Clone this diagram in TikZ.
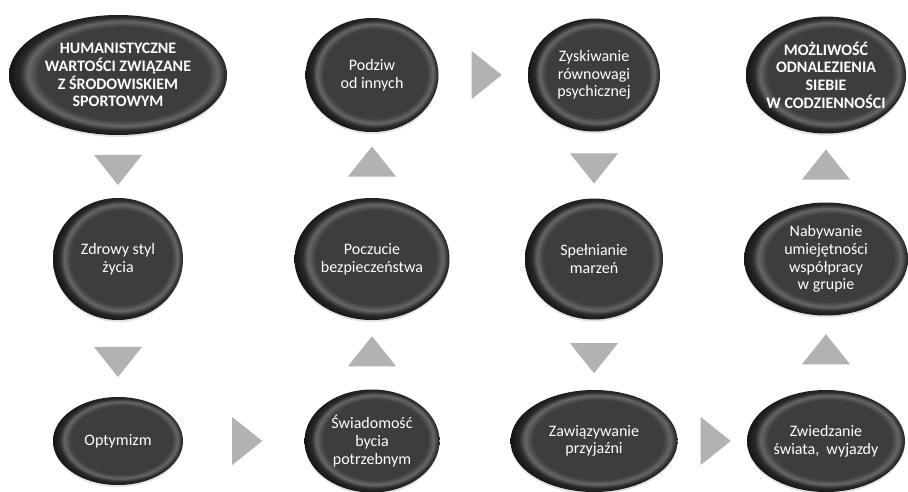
\documentclass[tikz,border=0pt]{standalone}
\usepackage{fontspec}
\setmainfont{Carlito}
\usepackage{tikz}
\usetikzlibrary{shapes.geometric,shadows}
\usetikzlibrary{positioning}

% dark pebble look, light rim a bit off centre
\pgfdeclareradialshading{pebble}{\pgfpoint{2bp}{1bp}}{%
  color(0bp)=(black!76); color(19.5bp)=(black!76); color(21.8bp)=(black!60);
  color(23.6bp)=(black!84); color(26bp)=(black!92); color(50bp)=(black!92)}

\tikzset{
    pebble/.style={
           ellipse,
           shade, shading=pebble,
           drop shadow={opacity=0.22,shadow xshift=0pt,shadow yshift=-2pt},
           text=white,
           inner sep=-12pt,
           align=center,
           font=\fontsize{16}{17.7}\selectfont,
           },
    bigpebble/.style={
           pebble,
           font=\fontsize{16}{17.7}\selectfont\bfseries,
           },
    arrowtri/.style={
           isosceles triangle,
           isosceles triangle stretches,
           fill=black!30,
           inner sep=0pt,
           minimum width=48pt,
           minimum height=30pt,
           },
}

\begin{document}
\begin{tikzpicture}

 \useasboundingbox (0,0) rectangle (908pt,-492pt);

 % first column, top to bottom
 \node[bigpebble, minimum width=218pt, minimum height=120pt] (Humanist) at (118pt,-75pt)
 {HUMANISTYCZNE\\WARTOŚCI ZWIĄZANE\\Z ŚRODOWISKIEM\\SPORTOWYM};

 \node[pebble,
  minimum width=130pt, minimum height=122pt,
  below of=Humanist,
  node distance=184pt,
  anchor=center] (Zdrowy)
 {Zdrowy styl\\życia};

 \node[pebble,
  minimum width=130pt, minimum height=88pt,
  below of=Zdrowy,
  node distance=182pt,
  anchor=center] (Optymizm)
 {Optymizm};

 % second column, read bottom to top
 \node[pebble,
  minimum width=133pt, minimum height=114pt,
  right of=Humanist,
  node distance=254pt,
  anchor=center] (Podziw)
 {Podziw\\od innych};

 \node[pebble,
  minimum width=155pt, minimum height=122pt,
  below of=Podziw,
  node distance=184pt,
  anchor=center] (Poczucie)
 {Poczucie\\bezpieczeństwa};

 \node[pebble,
  minimum width=135pt, minimum height=103pt,
  below of=Poczucie,
  node distance=182pt,
  anchor=center] (Swiadomosc)
 {Świadomość\\bycia\\potrzebnym};

 % third column, top to bottom
 \node[pebble,
  minimum width=132pt, minimum height=113pt,
  right of=Podziw,
  node distance=222pt,
  anchor=center] (Zyskiwanie)
 {Zyskiwanie\\równowagi\\psychicznej};

 \node[pebble,
  minimum width=138pt, minimum height=121pt,
  below of=Zyskiwanie,
  node distance=184pt,
  anchor=center] (Spelnianie)
 {Spełnianie\\marzeń};

 \node[pebble,
  minimum width=167pt, minimum height=102pt,
  below of=Spelnianie,
  node distance=182pt,
  anchor=center] (Zawiazywanie)
 {Zawiązywanie\\przyjaźni};

 % fourth column, read bottom to top
 \node[bigpebble,
  minimum width=160pt, minimum height=117pt,
  right of=Zyskiwanie,
  node distance=232pt,
  anchor=center] (Mozliwosc)
 {MOŻLIWOŚĆ\\ODNALEZIENIA\\SIEBIE\\W CODZIENNOŚCI};

 \node[pebble,
  minimum width=164pt, minimum height=113pt,
  below of=Mozliwosc,
  node distance=184pt,
  anchor=center] (Nabywanie)
 {Nabywanie\\umiejętności\\współpracy\\w grupie};

 \node[pebble,
  minimum width=158pt, minimum height=102pt,
  below of=Nabywanie,
  node distance=182pt,
  anchor=center] (Zwiedzanie)
 {Zwiedzanie\\świata,~ wyjazdy};

 % grey triangles between the pebbles
 \path (Humanist) -- (Zdrowy) node[arrowtri, midway, rotate=-90] (t1) {};
 \path (Zdrowy) -- (Optymizm) node[arrowtri, midway, rotate=-90] (t2) {};
 \path (Optymizm) -- (Swiadomosc) node[arrowtri, midway] (t3) {};
 \path (Swiadomosc) -- (Poczucie) node[arrowtri, midway, rotate=90] (t4) {};
 \path (Poczucie) -- (Podziw) node[arrowtri, midway, rotate=90] (t5) {};
 \path (Podziw) -- (Zyskiwanie) node[arrowtri, midway] (t6) {};
 \path (Zyskiwanie) -- (Spelnianie) node[arrowtri, midway, rotate=-90] (t7) {};
 \path (Spelnianie) -- (Zawiazywanie) node[arrowtri, midway, rotate=-90] (t8) {};
 \path (Zawiazywanie) -- (Zwiedzanie) node[arrowtri, midway] (t9) {};
 \path (Zwiedzanie) -- (Nabywanie) node[arrowtri, midway, rotate=90] (t10) {};
 \path (Nabywanie) -- (Mozliwosc) node[arrowtri, midway, rotate=90] (t11) {};

\end{tikzpicture}
\end{document}
